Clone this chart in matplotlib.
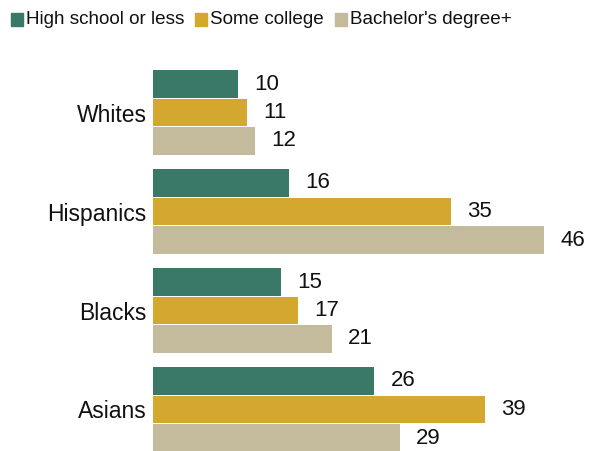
import matplotlib
matplotlib.use("Agg")
import matplotlib.pyplot as plt
from matplotlib.patches import Rectangle
import numpy as np

categories = ["Whites", "Hispanics", "Blacks", "Asians"]
series_names = ["High school or less", "Some college", "Bachelor's degree+"]
high_school = [10, 16, 15, 26]
some_college = [11, 35, 17, 39]
bachelors = [12, 46, 21, 29]
colors = ["#3a7867", "#d4a72f", "#c3bb9c"]

plt.rcParams["font.family"] = ["Liberation Sans", "DejaVu Sans"]

W, H = 613, 451
fig = plt.figure(figsize=(W / 100, H / 100), dpi=100)

# axes spans from the bar baseline to the right edge, full height
ax_left = 153 / W
ax = fig.add_axes([ax_left, 0, 1 - ax_left, 1])

px_per_unit = 8.5
xmax = (W - 153) / px_per_unit
pitch = 99.0
ax.set_xlim(0, xmax)
ax.set_ylim(3 + (H - 409.5) / pitch, -112.5 / pitch)

bar_h = 28.5 / pitch
y = np.arange(len(categories))
all_series = [high_school, some_college, bachelors]
for i, (vals, col) in enumerate(zip(all_series, colors)):
    pos = y + (i - 1) * bar_h
    ax.barh(pos, vals, height=bar_h * 0.97, color=col, edgecolor="none")
    for p, v in zip(pos, vals):
        ax.annotate(str(v), (v, p), xytext=(12, 0), textcoords="offset points",
                    ha="left", va="center", fontsize=16, color="#111111")

ax.set_yticks(y)
ax.set_yticklabels(categories, fontsize=16.5, color="#111111")
ax.tick_params(axis="y", length=0, pad=4.5)
ax.set_xticks([])
for s in ax.spines.values():
    s.set_visible(False)

# legend row at the top
legend_x = [11, 195, 335]
for name, col, lx in zip(series_names, colors, legend_x):
    fig.patches.append(Rectangle((lx / W, 1 - 26 / H), 12 / W, 13 / H,
                                 transform=fig.transFigure, color=col))
    fig.text((lx + 15) / W, 1 - 19 / H, name, fontsize=13.6, ha="left",
             va="center", color="#111111")

fig.savefig("out.png", dpi=100)
